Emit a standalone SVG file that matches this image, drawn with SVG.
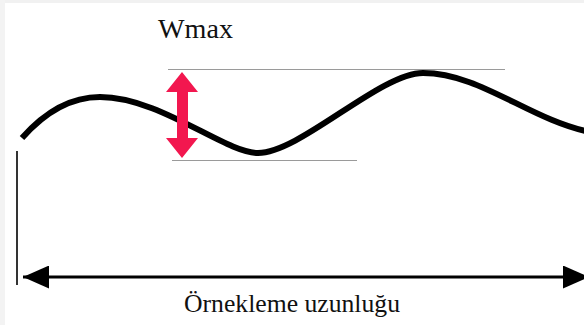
<svg xmlns="http://www.w3.org/2000/svg" width="584" height="325" viewBox="0 0 584 325">
  <style>
    .lbl { font-family: "Liberation Serif", "Times New Roman", serif; fill: #111; }
    .guide { stroke: #9a9a9a; stroke-width: 1.2; fill: none; }
    .wave { stroke: #000; stroke-width: 6; fill: none; }
  </style>
  <defs>
    <marker id="ah" viewBox="0 0 26 23" refX="26" refY="11.5" markerWidth="26" markerHeight="23" markerUnits="userSpaceOnUse" orient="auto-start-reverse">
      <path d="M0,0 L26,11.5 L0,23 Z" fill="#000"/>
    </marker>
  </defs>
  <rect width="584" height="325" fill="#ffffff"/>
  <rect x="0" y="0" width="584" height="3" fill="#f1f1f1"/>
  <rect x="0" y="0" width="5" height="325" fill="#f3f3f3"/>

  <g id="surface">
    <path class="wave" d="M22,138 C45,112 70,97 100,97 C160,97 225,153 258,153 C300,153 380,73 423,73 C480,73 530,120 590,132"/>
  </g>

  <g id="guides">
    <line class="guide" x1="168" y1="69.5" x2="505" y2="69.5"/>
    <line class="guide" x1="172" y1="160.5" x2="357" y2="160.5"/>
  </g>

  <g id="wmax-arrow">
    <polygon fill="#f2174f" points="182,72 198,92 188,92 188,138 198,138 182,158 166,138 177,138 177,92 166,92"/>
  </g>

  <g id="connectors">
    <line x1="17" y1="151" x2="17" y2="285" stroke="#000" stroke-width="1.6"/>
    <line x1="23" y1="277" x2="589" y2="277" stroke="#000" stroke-width="3" marker-start="url(#ah)" marker-end="url(#ah)"/>
  </g>

  <g id="labels">
    <text class="lbl" x="158" y="38" font-size="27" textLength="75" lengthAdjust="spacingAndGlyphs">Wmax</text>
    <text class="lbl" x="184" y="312" font-size="25.5" textLength="216" lengthAdjust="spacingAndGlyphs">Örnekleme uzunluğu</text>
  </g>
</svg>
